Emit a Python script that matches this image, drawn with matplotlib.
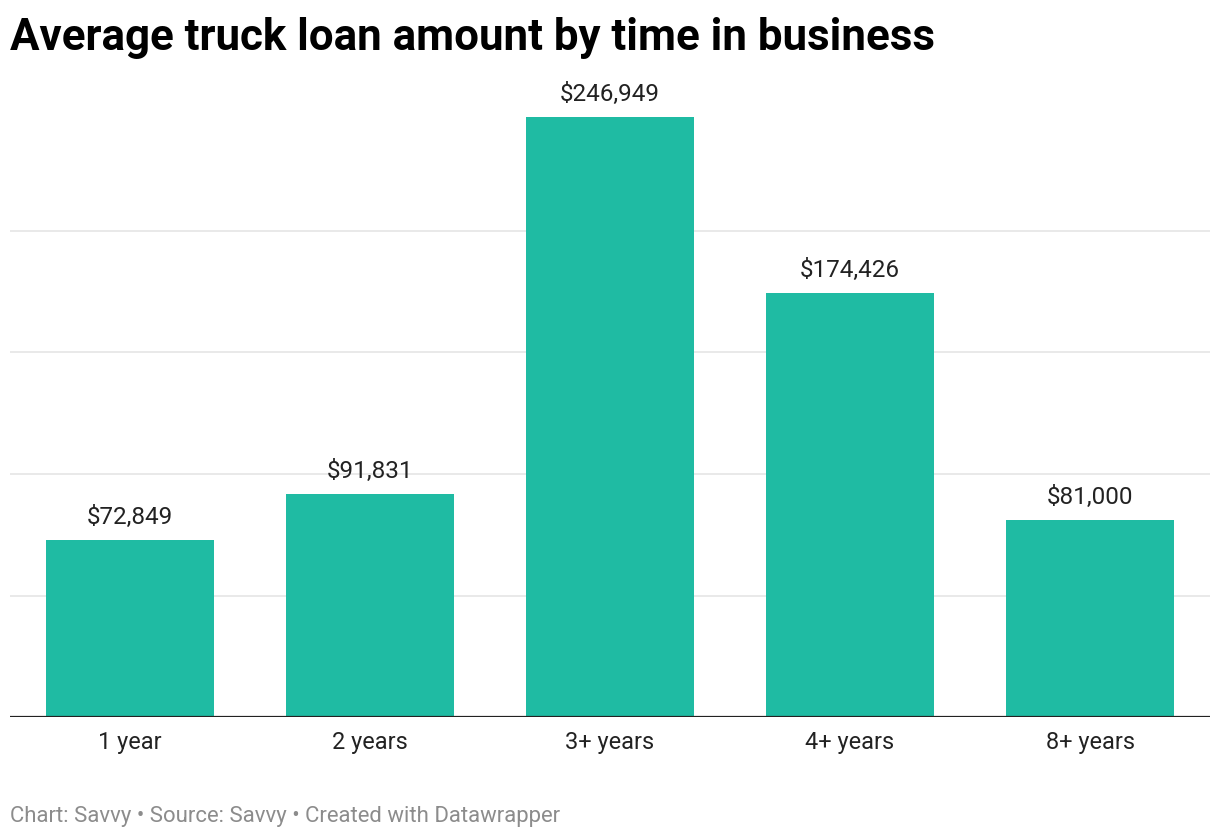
import matplotlib.pyplot as plt
import numpy as np

categories = ["1 year", "2 years", "3+ years", "4+ years", "8+ years"]
amounts = [72849, 91831, 246949, 174426, 81000]
grid_values = [50000, 100000, 150000, 200000]

W, H = 1220, 838


def main():
    plt.rcParams['font.family'] = ['Roboto', 'DejaVu Sans']
    fig = plt.figure(figsize=(W / 100, H / 100), dpi=100)

    top_px, bottom_px = 100, 717
    ax = fig.add_axes([10 / W, (H - bottom_px) / H, 1200 / W, (bottom_px - top_px) / H])

    x = np.arange(len(categories))
    ax.bar(x, amounts, width=0.7, color='#1fbba3', zorder=2)

    ax.set_xlim(-0.5, len(categories) - 0.5)
    ax.set_ylim(0, 50000 * (bottom_px - top_px) / 121.5)

    for g in grid_values:
        ax.axhline(g, color='#e5e5e5', lw=1.2, zorder=1)
    ax.axhline(0, color='#222222', lw=1.6, zorder=3)

    for xi, v in zip(x, amounts):
        ax.annotate(f"${v:,}", (xi, v), xytext=(0, 8), textcoords='offset points',
                    ha='center', va='bottom', fontsize=17.5, color='#222222')

    ax.set_xticks(x)
    ax.set_xticklabels(categories, fontsize=16.9, color='#222222')
    ax.tick_params(axis='x', length=0, pad=10)
    ax.set_yticks([])
    for s in ax.spines.values():
        s.set_visible(False)

    fig.text(10 / W, 1 - 50 / H, "Average truck loan amount by time in business",
             fontsize=31.6, fontweight='bold', color='#000000', ha='left', va='baseline')
    fig.text(10 / W, 1 - 822 / H, "Chart: Savvy \u2022 Source: Savvy \u2022 Created with Datawrapper",
             fontsize=15.9, color='#8c8c8c', ha='left', va='baseline')

    fig.savefig('out.png', dpi=100)


if __name__ == '__main__':
    main()
